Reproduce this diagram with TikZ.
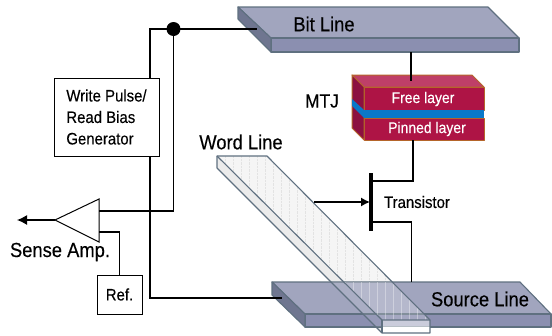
\documentclass[tikz,border=0pt]{standalone}
\usepackage{fontspec}
\setmainfont[FakeStretch=0.9,FakeBold=0.25]{Liberation Sans}
\usetikzlibrary{arrows.meta}

\definecolor{platetop}{HTML}{A1A5BE}
\definecolor{platefront}{HTML}{8B8FB0}
\definecolor{plateside}{HTML}{6F7690}
\definecolor{plateedge}{HTML}{5F7080}
\definecolor{mtjred}{HTML}{AE1445}
\definecolor{mtjtop}{HTML}{BF3F68}
\definecolor{mtjside}{HTML}{8C1040}
\definecolor{mtjedge}{HTML}{B5652A}
\definecolor{mtjblue}{HTML}{0A78C8}

\tikzset{
  wire/.style={line width=1.3pt},
  plate/.style={draw=plateedge, line width=1.1pt, line join=round},
  stack/.style={draw=mtjedge, line width=1pt, line join=round},
  blockbox/.style={draw, line width=1pt, align=left, inner sep=0pt},
  bigtag/.style={font=\fontsize{20.4}{24}\selectfont},
  smalltag/.style={font=\fontsize{16.6}{21.5}\selectfont},
  layertag/.style={font=\fontsize{15.5}{17}\selectfont, text=white}
}

\begin{document}
\begin{tikzpicture}[x=1pt, y=-1pt]
  \useasboundingbox (0,0) rectangle (552,335);

  % word line, lower layer
  \fill[gray!8] (217,156) -- (267,156) -- (430,320) -- (382,320) -- cycle;
  \fill[gray!16] (217,156) -- (382,320) -- (382,333) -- (217,168) -- cycle;
  \begin{scope}
    \clip (217,156) -- (267,156) -- (430,320) -- (382,320) -- cycle;
    \foreach \x in {225,233,...,425}
      \draw[gray!22, line width=.4pt, densely dotted] (\x,156) -- (\x,320);
  \end{scope}

  % source line
  \filldraw[plate, fill=platetop] (272,282) -- (520,282) -- (551,314) -- (305,314) -- cycle;
  \filldraw[plate, fill=platefront] (305,314) -- (551,314) -- (551,327) -- (305,327) -- cycle;
  \filldraw[plate, fill=plateside] (272,282) -- (305,314) -- (305,327) -- (272,295) -- cycle;

  % word line shows over it
  \begin{scope}
    \clip (272,282) -- (520,282) -- (551,314) -- (551,327) -- (305,327) -- (272,295) -- cycle;
    \fill[white, opacity=.22] (217,156) -- (267,156) -- (430,320) -- (382,320) -- cycle;
    \fill[white, opacity=.1] (217,156) -- (382,320) -- (382,333) -- (217,168) -- cycle;
    \clip (217,156) -- (267,156) -- (430,320) -- (382,320) -- cycle;
    \foreach \x in {345,353,...,425}
      \draw[white, opacity=.35, line width=.5pt] (\x,270) -- (\x,320);
  \end{scope}
  \fill[white, opacity=.55] (382,320) rectangle (430,327);
  \fill[white] (382,327) rectangle (430,333);
  \draw[plate] (217,156) -- (267,156) -- (430,320) -- (430,333) -- (382,333) -- (217,168) -- cycle;
  \draw[plate] (217,156) -- (382,320) -- (430,320);
  \draw[plate] (382,320) -- (382,333);

  % bit line
  \filldraw[plate, fill=platetop] (238,7) -- (488,7) -- (519,38) -- (271,38) -- cycle;
  \filldraw[plate, fill=platefront] (271,38) -- (519,38) -- (519,52) -- (271,52) -- cycle;
  \filldraw[plate, fill=plateside] (238,7) -- (271,38) -- (271,52) -- (238,19) -- cycle;

  % MTJ stack
  \filldraw[stack, fill=mtjtop] (352,75) -- (472,75) -- (484,87) -- (364,87) -- cycle;
  \filldraw[stack, fill=mtjred] (364,87) rectangle (484,110);
  \filldraw[stack, fill=mtjred] (364,118) rectangle (484,140);
  \filldraw[stack, fill=mtjside] (352,75) -- (364,87) -- (364,140) -- (352,128) -- cycle;
  \fill[mtjblue] (364,110) rectangle (484,118);
  \fill[mtjblue] (352,99) -- (364,110) -- (364,118) -- (352,106) -- cycle;

  \node[layertag] (free) at (423,99) {Free layer};
  \node[layertag] (pinned) at (427,129) {Pinned layer};
  \node[bigtag] (bit) at (324,24) {Bit Line};
  \node[bigtag] (source) at (480,299) {Source Line};
  \node[bigtag] (word) at (241,142) {Word Line};
  \node[font=\fontsize{19.2}{22}\selectfont] (mtj) at (322,101) {MTJ};
  \node[bigtag] (sense) at (60,252) {Sense Amp.};
  \node[smalltag] (transistor) at (417,202) {Transistor};

  \node[blockbox, smalltag, minimum width=105pt, minimum height=78pt] (gen) at (106.5,117)
    {Write Pulse/\\Read Bias\\Generator};
  \node[blockbox, smalltag, align=center, minimum width=45pt, minimum height=39pt] (ref) at (119.5,294.5) {Ref.};

  % sense amp
  \coordinate (amptip) at (55,220);
  \coordinate (ampup) at (99,211);
  \coordinate (ampdown) at (99,232);
  \coordinate (out) at (17,220);
  \draw[line width=1pt, line join=miter] (amptip) -- (99,199) -- (99,242) -- cycle;

  \coordinate (dot) at (173.5,29);
  \coordinate (bitend) at (257,29);
  \coordinate (srcend) at (282,298);
  \coordinate (bitbot) at (411,52);
  \coordinate (mtjin) at (411,81);
  \coordinate (mtjout) at (413,140);
  \coordinate (gatetop) at (371,173);
  \coordinate (gatebot) at (371,231);
  \coordinate (gatein) at (370,202);
  \coordinate (wordtap) at (314,202);
  \coordinate (srctop) at (411.5,282);

  \fill (dot) circle (7);
  \draw[wire] (gen.north -| 150,0) |- (dot) -- (bitend);
  \draw[wire] (dot) |- (ampup);
  \draw[wire] (gen.south -| 150,0) |- (srcend);
  \draw[wire] (ref.north) |- (ampdown);
  \draw[wire, -{Latex[length=10pt,width=10pt]}] (amptip) -- (out);
  \draw[wire] (bitbot) -- (mtjin);
  \draw[wire] (mtjout) |- (373,181);
  \draw[wire] (373,222) -| (srctop);
  \draw[line width=4pt] (gatetop) -- (gatebot);
  \draw[wire, -{Latex[length=9pt,width=9pt]}] (wordtap) -- (gatein);
\end{tikzpicture}
\end{document}
